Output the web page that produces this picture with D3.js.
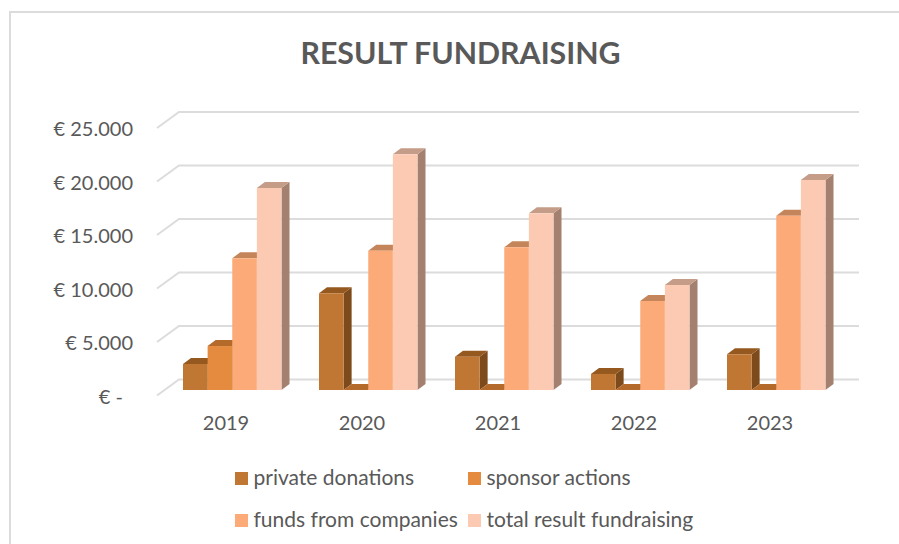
<!DOCTYPE html>
<html>

<head>
  <meta charset="UTF-8">
  <title>Result fundraising</title>
  <script src="https://d3js.org/d3.v7.min.js"></script>
  <style>
    body {
      margin: 0;
      padding: 0;
      background: white;
    }

    svg {
      display: block;
    }

    text {
      font-family: Lato, "Open Sans", sans-serif;
      fill: #595959;
    }

    .axis .domain,
    .axis line {
      display: none;
    }
  </style>
</head>

<body>
  <svg id="chart" width="899" height="544"></svg>

  <script>
    var years = ["2019", "2020", "2021", "2022", "2023"];
    var seriesNames = ["private donations", "sponsor actions", "funds from companies", "total result fundraising"];
    var privateDonations = [2430, 9040, 3110, 1500, 3340];
    var sponsorActions = [4110, 0, 0, 0, 0];
    var fundsFromCompanies = [12310, 13020, 13340, 8320, 16290];
    var totalResult = [18880, 22030, 16510, 9810, 19630];
    var yTicks = [0, 5000, 10000, 15000, 20000, 25000];
    var tickLabels = ["€ -", "€ 5.000", "€ 10.000", "€ 15.000", "€ 20.000", "€ 25.000"];

    var seriesValues = [privateDonations, sponsorActions, fundsFromCompanies, totalResult];
    var frontColors = ["#c07733", "#e58b3f", "#fcab78", "#fccab3"];
    var topColors = ["#95591f", "#b36a2b", "#c4855a", "#c49c88"];
    var sideColors = ["#7d4a1c", "#8f5524", "#a5755a", "#a38070"];

    var svg = d3.select("#chart");

    // chart border, the picture is cut off on the right and at the bottom
    svg.append("path")
      .attr("d", "M10,544V12H899")
      .attr("fill", "none")
      .attr("stroke", "#dcdcdc")
      .attr("stroke-width", 2);

    svg.append("text")
      .attr("x", 460.5)
      .attr("y", 64)
      .attr("text-anchor", "middle")
      .attr("font-size", 30.3)
      .attr("font-weight", 700)
      .text("RESULT FUNDRAISING");

    // front plane of the floor, depth of the 3d box goes up and to the right
    var floorY = 395.5;
    var depthX = 22, depthY = -16;
    var barOffsetY = -5.5;
    var barDepthX = 8, barDepthY = -6;

    var x0 = d3.scaleBand().domain(years).range([157, 837]);
    var x1 = d3.scaleBand().domain(d3.range(4)).range([26, 124.5]);
    var y = d3.scaleLinear().domain([0, 25000]).range([floorY, floorY - 267.5]);

    // gridlines with the diagonal part on the side wall
    var grid = svg.append("g");
    grid.selectAll("path")
      .data(yTicks)
      .enter()
      .append("path")
      .attr("d", function (d) {
        var px = x0.range()[0], py = y(d);
        return "M" + px + "," + py + "L" + (px + depthX) + "," + (py + depthY) + "L" + (x0.range()[1] + depthX) + "," + (py + depthY);
      })
      .attr("fill", "none")
      .attr("stroke", "#dcdcdc")
      .attr("stroke-width", 2);

    // bars, series by series inside every year so the later ones overlap the side faces
    years.forEach(function (year, yi) {
      var g = svg.append("g");
      seriesValues.forEach(function (values, si) {
        var bx = x0(year) + x1(si);
        var bw = x1.bandwidth();
        var base = floorY + barOffsetY;
        var topY = y(values[yi]) + barOffsetY;

        g.append("path")
          .attr("d", "M" + (bx + bw) + "," + base + "L" + (bx + bw + barDepthX) + "," + (base + barDepthY) +
            "L" + (bx + bw + barDepthX) + "," + (topY + barDepthY) + "L" + (bx + bw) + "," + topY + "Z")
          .attr("fill", sideColors[si]);

        g.append("path")
          .attr("d", "M" + bx + "," + topY + "L" + (bx + barDepthX) + "," + (topY + barDepthY) +
            "L" + (bx + bw + barDepthX) + "," + (topY + barDepthY) + "L" + (bx + bw) + "," + topY + "Z")
          .attr("fill", topColors[si]);

        g.append("rect")
          .attr("x", bx)
          .attr("y", topY)
          .attr("width", bw)
          .attr("height", base - topY)
          .attr("fill", frontColors[si]);
      });
    });

    // axes
    svg.append("g")
      .attr("class", "axis")
      .attr("transform", "translate(133,1)")
      .call(d3.axisLeft(y).tickValues(yTicks).tickSize(0).tickPadding(0).tickFormat(function (d, i) { return tickLabels[i]; }))
      .selectAll("text")
      .attr("font-size", 20)
      .attr("font-family", "Lato")
      .attr("dx", function (d) { return d === 0 ? -10 : 0; })
      .attr("dy", "0.34em");

    svg.append("g")
      .attr("class", "axis")
      .attr("transform", "translate(1,414)")
      .call(d3.axisBottom(x0).tickSize(0).tickPadding(0))
      .selectAll("text")
      .attr("font-size", 20)
      .attr("font-family", "Lato")
      .attr("dy", "0.8em");

    // legend
    var legendX = [235, 468, 235, 468];
    var legendY = [478.5, 478.5, 520.5, 520.5];
    var legend = svg.selectAll(".legend-item")
      .data(seriesNames)
      .enter()
      .append("g")
      .attr("class", "legend-item")
      .attr("transform", function (d, i) { return "translate(" + legendX[i] + "," + legendY[i] + ")"; });

    legend.append("rect")
      .attr("y", -6.5)
      .attr("width", 13)
      .attr("height", 13)
      .attr("fill", function (d, i) { return frontColors[i]; });

    legend.append("text")
      .attr("x", 18.5)
      .attr("y", -1)
      .attr("dy", "0.34em")
      .attr("font-size", 21)
      .text(function (d) { return d; });
  </script>
</body>

</html>
